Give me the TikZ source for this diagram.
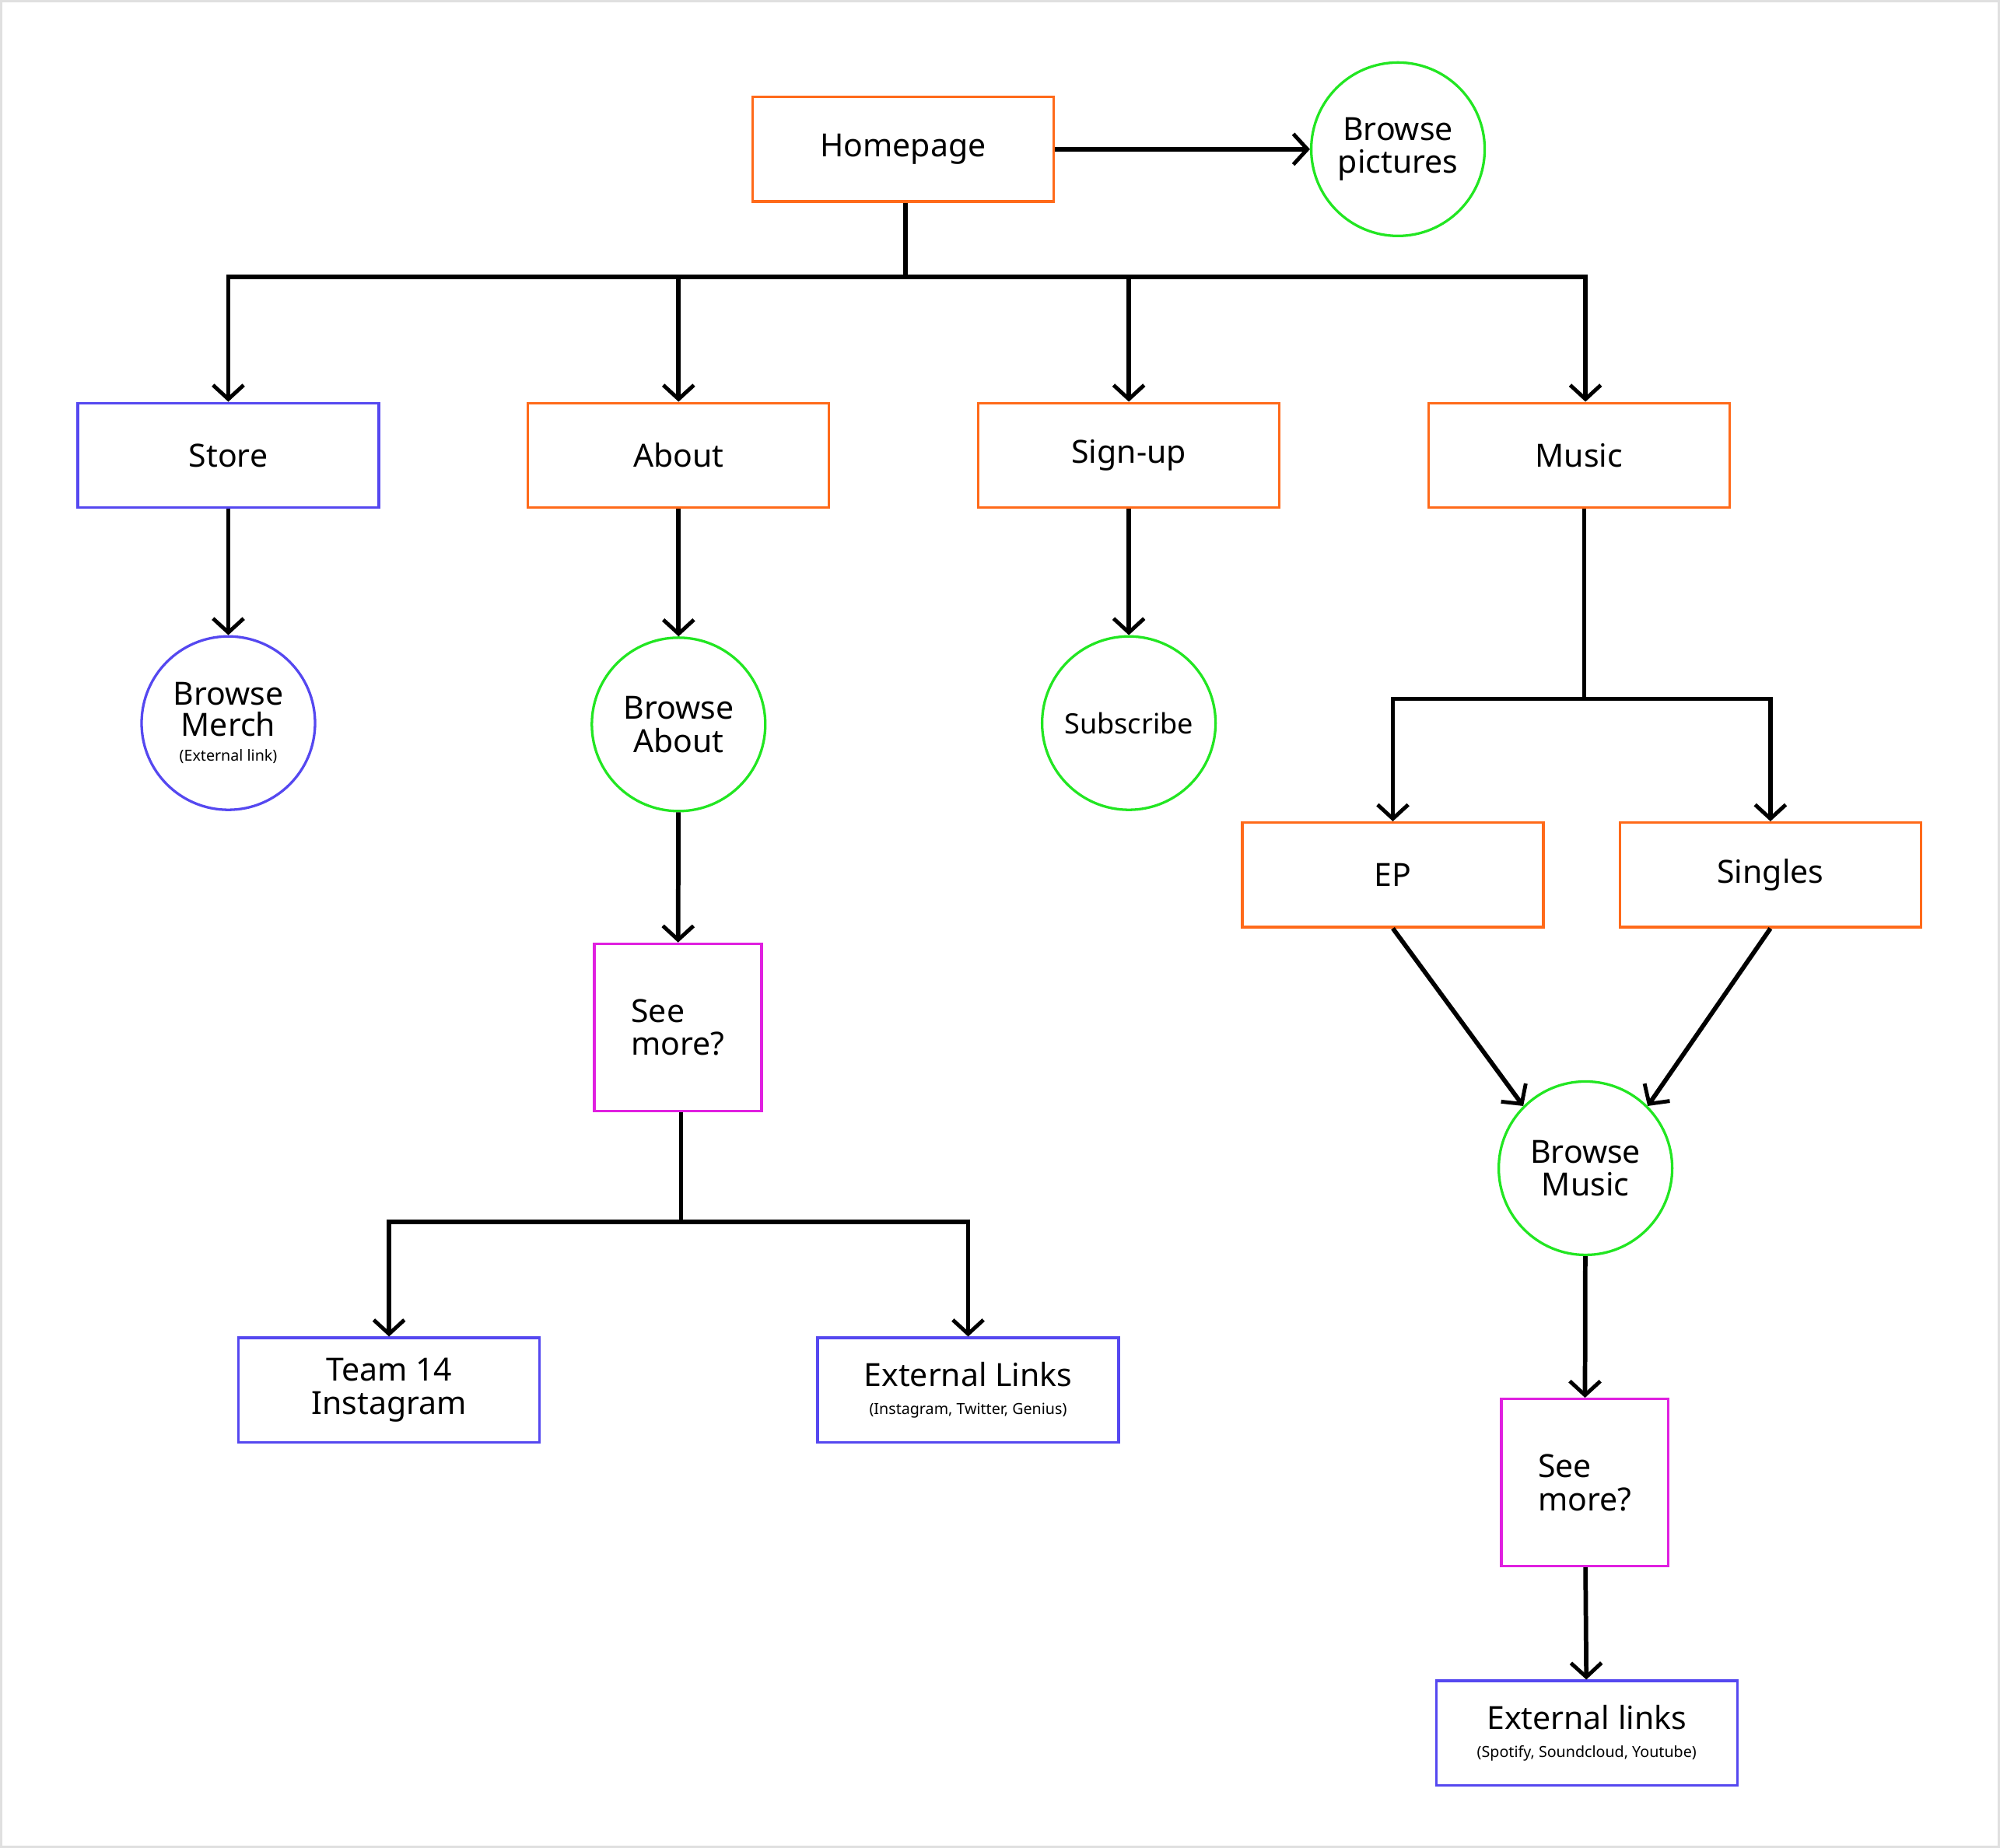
\documentclass[tikz,border=0pt]{standalone}
\usepackage{fontspec}
\setmainfont{Noto Sans}
\usetikzlibrary{arrows.meta}
\definecolor{cor}{HTML}{FF6A1A}
\definecolor{cbl}{HTML}{5548F0}
\definecolor{cgr}{HTML}{22E622}
\definecolor{cmg}{HTML}{E020E0}
\begin{document}
\begin{tikzpicture}[x=1pt,y=-1pt,
 box/.style={draw=#1,line width=2pt,minimum width=236pt,minimum height=82pt,inner sep=0pt,font=\fontsize{25}{30}\selectfont,align=center},
 circ/.style={draw=#1,line width=2pt,circle,minimum size=136pt,inner sep=0pt,font=\fontsize{25}{30}\selectfont,align=center},
 sq/.style={draw=cmg,line width=2pt,minimum width=131pt,minimum height=131pt,inner sep=0pt,font=\fontsize{25}{30}\selectfont,align=left},
 small/.style={font=\fontsize{12}{14}\selectfont},
 con/.style={line width=3.5pt,line join=miter},
 arr/.style={con,-{Straight Barb[length=11pt,width=24pt,line width=3pt]}}]
\fill[white] (0,0) rectangle (1568,1449);
\draw[black!12,line width=2pt] (1,1) rectangle (1567,1448);
\node[box=cor] (home) at (708,117) {Homepage};
\node[circ=cgr] (bp) at (1096,117) {Browse\\[-4pt]pictures};
\node[box=cbl] (store) at (179,357) {Store};
\node[box=cor] (about) at (532,357) {About};
\node[box=cor] (sign) at (885,357) {Sign-up};
\node[box=cor] (music) at (1238,357) {Music};
\node[circ=cbl] (merch) at (179,567) {Browse\\[-6pt]Merch\\[-10pt]{\fontsize{12}{14}\selectfont (External link)}};
\node[circ=cgr] (babout) at (532,568) {Browse\\[-4pt]About};
\node[circ=cgr,font=\fontsize{22}{26}\selectfont] (sub) at (885,567) {Subscribe};
\node[sq] (see1) at (531.5,805.5) {See\\[-4pt]more?};
\node[box=cbl] (team) at (305,1090) {Team 14\\[-4pt]Instagram};
\node[box=cbl] (ext1) at (759,1090) {External Links\\[-8pt]{\fontsize{12}{14}\selectfont (Instagram, Twitter, Genius)}};
\node[box=cor] (ep) at (1092,686) {EP};
\node[box=cor] (sing) at (1388,686) {Singles};
\node[circ=cgr] (bm) at (1243,916) {Browse\\[-4pt]Music};
\node[sq] (see2) at (1242.5,1162.5) {See\\[-4pt]more?};
\node[box=cbl] (ext2) at (1244,1359) {External links\\[-8pt]{\fontsize{12}{14}\selectfont (Spotify, Soundcloud, Youtube)}};
\coordinate (j1) at (710,217);
\draw[arr] (home.east) -- (bp.west);
\draw[con] (home.south -| j1) -- (j1);
\draw[arr] (j1) -| (store.north);
\draw[arr] (j1) -| (about.north);
\draw[arr] (j1) -| (sign.north);
\draw[arr] (j1) -| ([xshift=5pt]music.north);
\draw[arr] (store) -- (merch);
\draw[arr] (about) -- (babout);
\draw[arr] (sign) -- (sub);
\draw[arr] (babout) -- (see1);
\coordinate (j2) at (1242,548);
\draw[con] ([xshift=4pt]music.south) -- (j2);
\draw[arr] (j2) -| (ep.north);
\draw[arr] (j2) -| (sing.north);
\draw[arr] (ep.south) -- (bm.north west);
\draw[arr] (sing.south) -- (bm.north east);
\draw[arr] (bm) -- (see2);
\draw[arr] (see2) -- (ext2);
\coordinate (j3) at (534,958);
\draw[con] ([xshift=2.5pt]see1.south) -- (j3);
\draw[arr] (j3) -| (team.north);
\draw[arr] (j3) -| (ext1.north);
\end{tikzpicture}
\end{document}
